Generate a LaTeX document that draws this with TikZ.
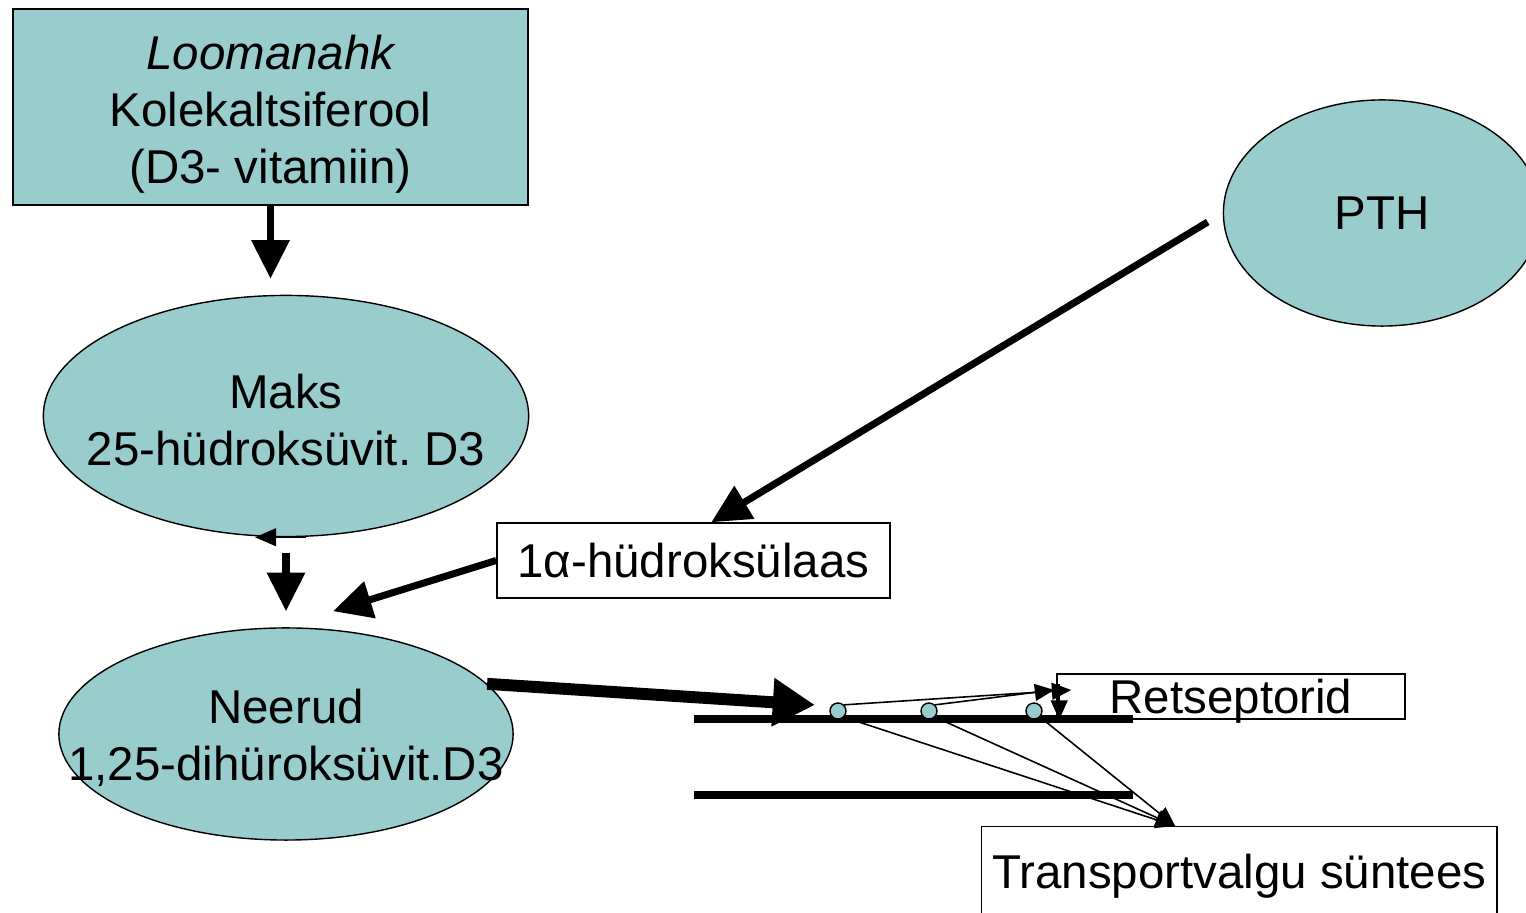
\documentclass[tikz,border=0pt]{standalone}
\usepackage{fontspec}
\setmainfont{Liberation Sans}
\usepackage{tikz}
\usetikzlibrary{shapes.geometric, arrows.meta, positioning, calc}
\definecolor{organfill}{HTML}{99CCCC}
\frenchspacing

\begin{document}
\begin{tikzpicture}[x=0.01cm, y=-0.01cm,
    every node/.style={font=\fontsize{13.5pt}{16.2pt}\selectfont},
    every label/.style={align=center, yshift=-0.04cm},
    block/.style={rectangle, draw, fill=organfill, inner sep=0},
    organ/.style={ellipse, draw, fill=organfill, inner sep=0, align=center},
    tag/.style={rectangle, draw, fill=white, inner sep=0},
    site/.style={circle, draw, fill=organfill, minimum size=0.16cm, inner sep=0},
    arrow/.style={line width=2pt, -{Triangle[length=11pt,width=10.5pt]}},
    bigarrow/.style={line width=3.4pt, -{Triangle[length=12pt,width=13pt]}},
    smallhead/.style={line width=0.6pt, -{Triangle[length=6pt,width=5pt]}},
    thinarrow/.style={line width=0.45pt, -{Triangle[length=5.5pt,width=4.8pt]}},
    membrane/.style={line width=2pt}]

    \useasboundingbox (0,0) rectangle (1526,913);

    % Nodes
    \node [block, minimum width=5.15cm, minimum height=1.96cm,
        label={[yshift=-0.03cm]center:{\itshape Loomanahk}\\Kolekaltsiferool\\(D3- vitamiin)}] (loom) at (270.5,107) {};
    \node [organ, minimum width=4.85cm, minimum height=2.41cm,
        label={center:Maks\\25-hüdroksüvit. D3}] (maks) at (286,416) {};
    \node [organ, minimum width=4.54cm, minimum height=2.12cm,
        label={center:Neerud\\1,25-dihüroksüvit.D3}] (neer) at (286,734) {};
    \node [organ, minimum width=3.17cm, minimum height=2.26cm] (pth) at (1382,213) {PTH};
    \node [tag, minimum width=3.93cm, minimum height=0.75cm] (hyd) at (693.5,560.5) {1α-hüdroksülaas};
    \node [tag, minimum width=3.48cm, minimum height=0.45cm, text depth=0pt] (ret) at (1231,696.5) {Retseptorid};
    \node [tag, minimum width=5.15cm, minimum height=1.0cm, anchor=north west] (trans) at (981,826)
        {Transportvalgu süntees};

    % Membrane
    \draw [membrane] (694,719) -- (1133,719);
    \draw [membrane] (694,795) -- (1133,795);
    \coordinate (into) at (815,705);

    \node [site] (r1) at (838,711) {};
    \node [site] (r2) at (929,711) {};
    \node [site] (r3) at (1034,711) {};

    % Arrows
    \draw [arrow, shorten >=0.16cm] (loom.south) -- (loom.south |- maks.north);
    \draw [smallhead] ([xshift=0.2cm]maks.south) -- ([xshift=-0.31cm]maks.south);
    \draw [arrow, shorten <=0.16cm, shorten >=0.16cm] (maks.south) -- (neer.north);
    \draw [arrow] ([xshift=-0.15cm,yshift=-0.09cm]pth.west) -- ([xshift=2.15cm]hyd.north west);
    \draw [arrow] (hyd.west) -- ($(neer.north)+(47,-16)$);
    \draw [bigarrow] (neer.14) -- (into);

    \draw [thinarrow] (r1.north east) -- ([xshift=0.15cm,yshift=0.065cm]ret.west);
    \draw [thinarrow] (r2.north east) -- ([xshift=-0.02cm,yshift=0.065cm]ret.west);
    \draw [thinarrow] ([xshift=0.03cm,yshift=0.12cm]ret.west) -- ([xshift=0.03cm]ret.south west);

    \draw [thinarrow] (r1.south east) -- ([xshift=1.94cm]trans.north west);
    \draw [thinarrow] (r2.south east) -- ([xshift=1.94cm]trans.north west);
    \draw [thinarrow] (r3.south east) -- ([xshift=1.94cm]trans.north west);

\end{tikzpicture}
\end{document}
